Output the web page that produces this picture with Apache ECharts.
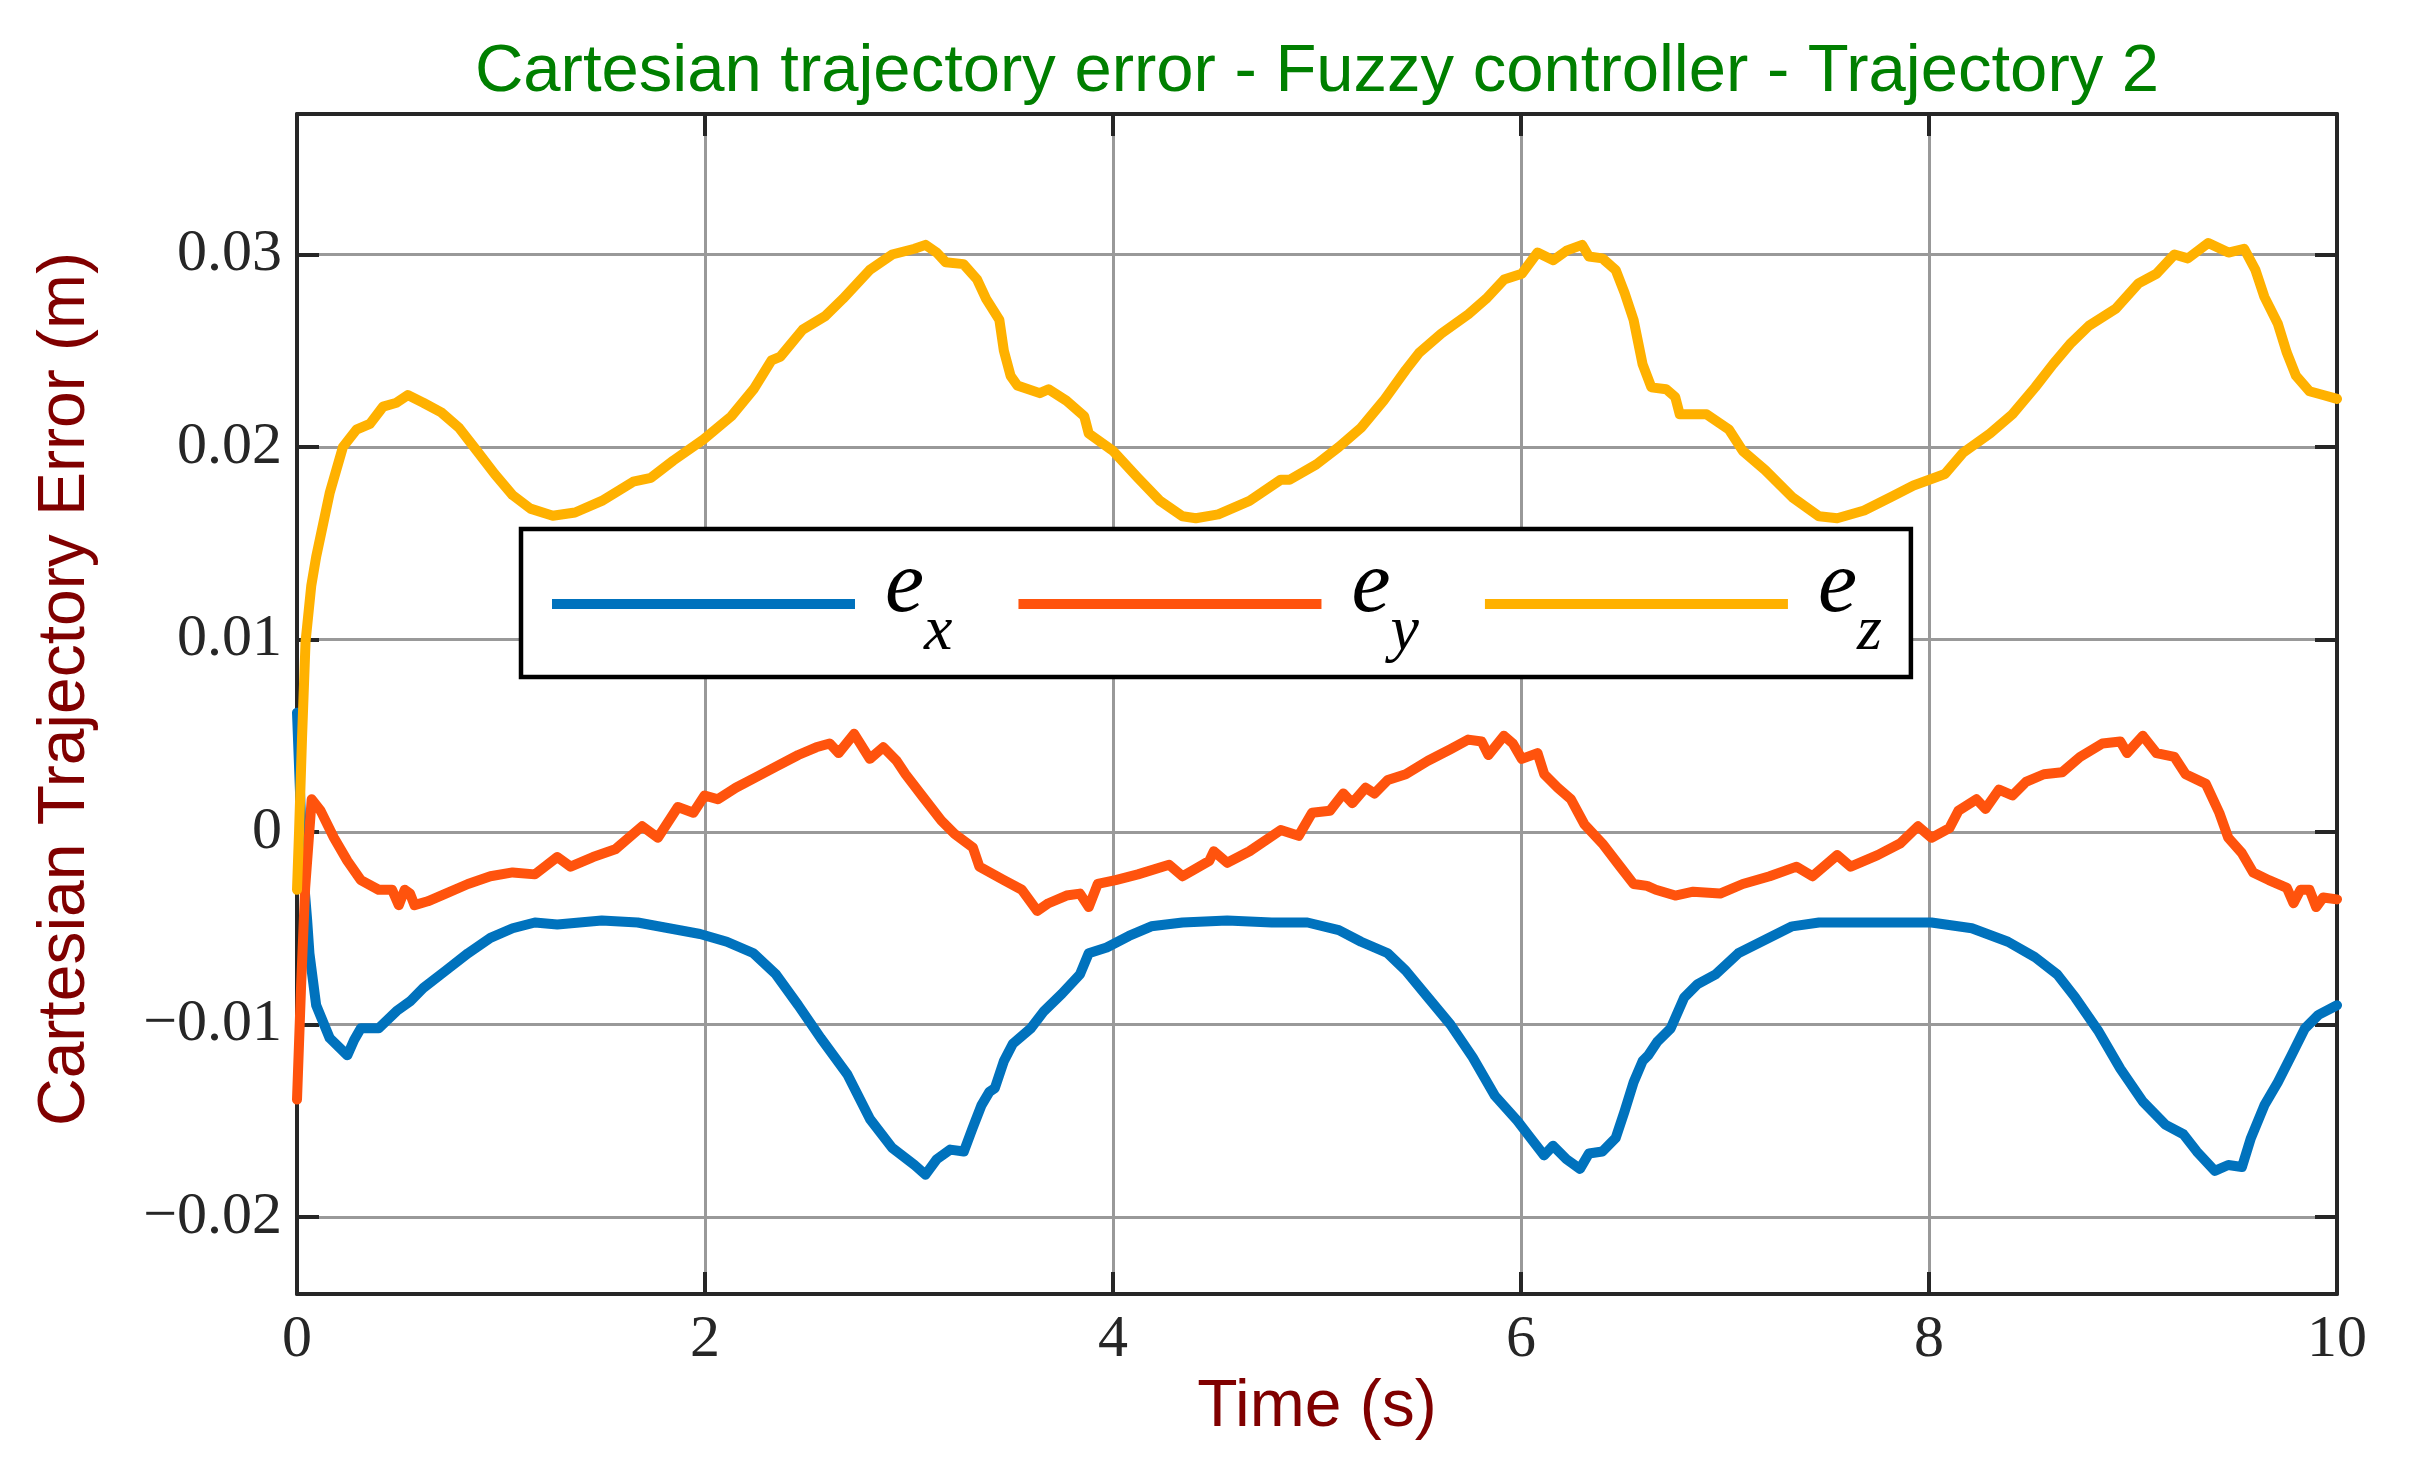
<!DOCTYPE html>
<html>
<head>
<meta charset="utf-8">
<script src="https://cdn.jsdelivr.net/npm/echarts@6/dist/echarts.min.js"></script>
<style>
html,body{margin:0;padding:0;background:#fff;}
#chart{width:2418px;height:1467px;}
</style>
</head>
<body>
<div id="chart"></div>
<script>
// ---------- data ----------
var titleText = 'Cartesian trajectory error - Fuzzy controller - Trajectory 2';
var xAxisName = 'Time (s)';
var yAxisName = 'Cartesian Trajectory Error (m)';
var seriesNames = ['e_x', 'e_y', 'e_z'];
var yTickValues = [-0.02, -0.01, 0, 0.01, 0.02, 0.03];

var timeX = [0,0.015,0.03,0.05,0.061,0.094,0.16,0.247,0.28,0.313,0.40,0.488,0.554,0.619,0.729,0.838,0.948,1.057,1.166,1.276,1.385,1.494,1.670,1.823,1.976,2.107,2.238,2.348,2.457,2.567,2.698,2.808,2.917,3.027,3.081,3.136,3.202,3.269,3.311,3.355,3.394,3.421,3.465,3.509,3.597,3.662,3.750,3.838,3.881,3.969,4.078,4.188,4.341,4.560,4.778,4.953,5.107,5.216,5.347,5.435,5.544,5.654,5.763,5.872,5.982,6.047,6.113,6.157,6.223,6.289,6.333,6.399,6.464,6.508,6.552,6.596,6.624,6.668,6.734,6.800,6.866,6.954,7.065,7.197,7.329,7.461,7.682,8.012,8.210,8.387,8.519,8.629,8.717,8.828,8.938,9.048,9.158,9.247,9.313,9.401,9.467,9.534,9.578,9.644,9.710,9.777,9.843,9.909,10.0];
var ex = [0.0062,0.002,-0.002,-0.0046,-0.0063,-0.009,-0.0107,-0.0116,-0.0108,-0.0102,-0.0102,-0.0093,-0.0088,-0.0081,-0.0072,-0.0063,-0.0055,-0.005,-0.0047,-0.0048,-0.0047,-0.0046,-0.0047,-0.005,-0.0053,-0.0057,-0.0063,-0.0074,-0.009,-0.0107,-0.0126,-0.0149,-0.0164,-0.0173,-0.0178,-0.017,-0.0165,-0.0166,-0.0154,-0.0142,-0.0135,-0.0133,-0.0119,-0.011,-0.0102,-0.0093,-0.0084,-0.0074,-0.0063,-0.006,-0.0054,-0.0049,-0.0047,-0.0046,-0.0047,-0.0047,-0.0051,-0.0057,-0.0063,-0.0072,-0.0086,-0.01,-0.0117,-0.0137,-0.015,-0.0159,-0.0168,-0.0163,-0.017,-0.0175,-0.0167,-0.0166,-0.0159,-0.0145,-0.013,-0.0119,-0.0116,-0.0109,-0.0102,-0.0086,-0.0079,-0.0074,-0.0063,-0.0056,-0.0049,-0.0047,-0.0047,-0.0047,-0.005,-0.0057,-0.0065,-0.0074,-0.0086,-0.0103,-0.0123,-0.014,-0.0152,-0.0157,-0.0166,-0.0176,-0.0173,-0.0174,-0.0159,-0.0142,-0.013,-0.0116,-0.0102,-0.0095,-0.009];

var timeY = [0,0.02,0.04,0.072,0.116,0.181,0.247,0.313,0.40,0.466,0.499,0.528,0.554,0.576,0.641,0.729,0.838,0.948,1.057,1.166,1.276,1.341,1.451,1.56,1.692,1.769,1.867,1.943,1.998,2.063,2.151,2.26,2.348,2.457,2.545,2.611,2.655,2.731,2.808,2.874,2.939,2.983,3.07,3.158,3.224,3.313,3.345,3.465,3.553,3.629,3.684,3.772,3.838,3.881,3.925,4.013,4.122,4.275,4.341,4.472,4.494,4.56,4.669,4.822,4.91,4.976,5.063,5.129,5.173,5.238,5.282,5.347,5.435,5.544,5.654,5.741,5.807,5.84,5.916,5.96,6.004,6.081,6.114,6.18,6.245,6.311,6.399,6.486,6.552,6.618,6.661,6.756,6.844,6.976,7.087,7.219,7.351,7.429,7.55,7.616,7.748,7.858,7.946,8.012,8.1,8.144,8.233,8.277,8.343,8.409,8.475,8.563,8.652,8.74,8.85,8.938,8.971,9.048,9.115,9.203,9.258,9.357,9.423,9.467,9.534,9.589,9.666,9.754,9.787,9.821,9.865,9.898,9.932,10];
var ey = [-0.0139,-0.008,-0.0029,0.0017,0.0011,-0.0003,-0.0015,-0.0025,-0.003,-0.003,-0.0038,-0.003,-0.0032,-0.0038,-0.0036,-0.0032,-0.0027,-0.0023,-0.0021,-0.0022,-0.0013,-0.0018,-0.0013,-0.0009,0.0003,-0.0003,0.0013,0.001,0.0019,0.0017,0.0023,0.0029,0.0034,0.004,0.0044,0.0046,0.0041,0.0051,0.0038,0.0044,0.0037,0.003,0.0018,0.0006,-0.0001,-0.0008,-0.0018,-0.0025,-0.003,-0.0041,-0.0037,-0.0033,-0.0032,-0.0039,-0.0027,-0.0025,-0.0022,-0.0017,-0.0023,-0.0015,-0.001,-0.0016,-0.001,0.0001,-0.0002,0.001,0.0011,0.002,0.0015,0.0023,0.002,0.0027,0.003,0.0037,0.0043,0.0048,0.0047,0.004,0.005,0.0046,0.0038,0.0041,0.003,0.0023,0.0017,0.0004,-0.0006,-0.0018,-0.0027,-0.0028,-0.003,-0.0033,-0.0031,-0.0032,-0.0027,-0.0023,-0.0018,-0.0023,-0.0012,-0.0018,-0.0012,-0.0006,0.0003,-0.0003,0.0002,0.0011,0.0017,0.0012,0.0022,0.0019,0.0026,0.003,0.0031,0.0039,0.0046,0.0047,0.0041,0.005,0.0041,0.0039,0.003,0.0025,0.001,-0.0003,-0.0011,-0.0021,-0.0025,-0.0029,-0.0037,-0.003,-0.003,-0.0039,-0.0034,-0.0035];

var timeZ = [0,0.01,0.025,0.042,0.07,0.094,0.16,0.225,0.291,0.357,0.422,0.488,0.543,0.619,0.707,0.794,0.882,0.969,1.057,1.144,1.254,1.363,1.494,1.648,1.735,1.845,1.993,2.129,2.238,2.326,2.37,2.479,2.589,2.676,2.808,2.917,3.027,3.081,3.136,3.18,3.267,3.334,3.378,3.443,3.465,3.498,3.531,3.641,3.684,3.772,3.859,3.881,4.0,4.122,4.231,4.341,4.406,4.516,4.669,4.822,4.866,4.997,5.107,5.216,5.326,5.435,5.501,5.61,5.742,5.829,5.917,6.004,6.081,6.158,6.223,6.3,6.333,6.399,6.464,6.508,6.552,6.596,6.639,6.712,6.756,6.778,6.844,6.91,7.02,7.087,7.197,7.329,7.461,7.55,7.682,7.814,7.924,8.078,8.167,8.299,8.409,8.52,8.608,8.696,8.784,8.917,9.027,9.115,9.203,9.269,9.369,9.468,9.545,9.6,9.644,9.71,9.754,9.799,9.865,9.932,10];
var ez = [-0.003,0.0,0.005,0.0099,0.0128,0.0143,0.0176,0.02,0.0209,0.0212,0.0221,0.0223,0.0227,0.0223,0.0218,0.021,0.0198,0.0186,0.0175,0.0168,0.01643,0.0166,0.0172,0.0182,0.0184,0.0193,0.0204,0.0216,0.023,0.0245,0.0247,0.0261,0.0268,0.0277,0.0292,0.03,0.0303,0.0305,0.0301,0.0296,0.0295,0.0287,0.0277,0.0266,0.025,0.0237,0.0232,0.0228,0.023,0.0224,0.0216,0.0207,0.0198,0.0184,0.0172,0.0164,0.0163,0.0165,0.0172,0.0183,0.0183,0.0191,0.02,0.021,0.0224,0.024,0.0249,0.0259,0.0269,0.0277,0.0287,0.029,0.0301,0.0297,0.0302,0.0305,0.0299,0.0298,0.0292,0.028,0.0266,0.0243,0.0231,0.023,0.0226,0.0217,0.0217,0.0217,0.0209,0.0198,0.0188,0.0174,0.0164,0.0163,0.0167,0.0174,0.018,0.0186,0.0197,0.0207,0.0217,0.0231,0.0243,0.0254,0.0263,0.0272,0.0285,0.029,0.03,0.0298,0.0306,0.0301,0.0303,0.0292,0.0278,0.0264,0.0249,0.0237,0.0229,0.0227,0.0225];

var seriesColors = ['#0072BD', '#FF530D', '#FFB100'];

// ---------- build ----------
function pairs(t, v) { return t.map(function (x, i) { return [x, v[i]]; }); }
var seriesData = [pairs(timeX, ex), pairs(timeY, ey), pairs(timeZ, ez)];

var Y_MIN = -0.024, Y_MAX = 0.0373;
var axisDark = '#262626';
var gridGray = '#999999';
var serif = '"Liberation Serif", "DejaVu Serif", serif';
var sans = '"Liberation Sans", Arial, sans-serif';

function yFmt(v) {
  if (v === 0) return '0';
  return (v < 0 ? '\u2212' : '') + String(Math.abs(v));
}

var chart = echarts.init(document.getElementById('chart'), null, {renderer: 'canvas'});
var option = {
  animation: false,
  backgroundColor: '#ffffff',
  grid: {left: 297, top: 114, width: 2040, height: 1180, containLabel: false, outerBoundsMode: 'none'},
  graphic: [{
    type: 'text',
    x: 1317, y: 73,
    style: {
      text: titleText,
      fill: '#007F00',
      font: '67px ' + sans,
      align: 'center',
      verticalAlign: 'middle'
    }
  }],
  legend: {
    left: 521, top: 529,
    orient: 'horizontal',
    padding: [15, 29, 13, 31],
    itemGap: 66,
    itemWidth: 303,
    itemHeight: 10,
    icon: 'rect',
    backgroundColor: '#ffffff',
    borderColor: '#000000',
    borderWidth: 4.5,
    borderRadius: 0,
    selectedMode: false,
    data: seriesNames,
    formatter: function (name) { return '{e|e}{s|' + name.slice(2) + '}'; },
    textStyle: {
      rich: {
        e: {fontSize: 88, fontFamily: serif, fontStyle: 'italic', color: '#000', lineHeight: 88, verticalAlign: 'top', padding: [0, 0, 0, 25]},
        s: {fontSize: 64, fontFamily: serif, fontStyle: 'italic', color: '#000', lineHeight: 120, verticalAlign: 'bottom'}
      }
    }
  },
  xAxis: [{
    type: 'value', position: 'bottom', min: 0, max: 10, interval: 2,
    name: xAxisName, nameLocation: 'middle', nameGap: 63,
    nameTextStyle: {fontSize: 66, fontFamily: sans, color: '#800000'},
    axisLine: {show: true, onZero: false, lineStyle: {color: axisDark, width: 4}},
    axisTick: {show: true, inside: true, length: 22, lineStyle: {color: axisDark, width: 4}},
    axisLabel: {show: true, margin: 16, fontSize: 60, fontFamily: serif, color: axisDark},
    splitLine: {show: true, lineStyle: {color: gridGray, width: 3}}
  }, {
    type: 'value', position: 'top', min: 0, max: 10, interval: 2,
    axisLine: {show: true, onZero: false, lineStyle: {color: axisDark, width: 4}},
    axisTick: {show: true, inside: true, length: 22, lineStyle: {color: axisDark, width: 4}},
    axisLabel: {show: false},
    splitLine: {show: false}
  }],
  yAxis: [{
    type: 'value', position: 'left', min: Y_MIN, max: Y_MAX,
    name: yAxisName, nameLocation: 'middle', nameGap: 198,
    nameTextStyle: {fontSize: 66, fontFamily: sans, color: '#800000', padding: [0, 0, 0, 30]},
    axisLine: {show: true, onZero: false, lineStyle: {color: axisDark, width: 4}},
    axisTick: {show: true, inside: true, length: 22, customValues: yTickValues, lineStyle: {color: axisDark, width: 4}},
    axisLabel: {show: true, margin: 15, fontSize: 60, fontFamily: serif, color: axisDark, customValues: yTickValues, formatter: yFmt},
    splitLine: {show: true, lineStyle: {color: gridGray, width: 3}}
  }, {
    type: 'value', position: 'right', min: Y_MIN, max: Y_MAX,
    axisLine: {show: true, onZero: false, lineStyle: {color: axisDark, width: 4}},
    axisTick: {show: true, inside: true, length: 22, customValues: yTickValues, lineStyle: {color: axisDark, width: 4}},
    axisLabel: {show: false, customValues: yTickValues},
    splitLine: {show: false}
  }],
  series: seriesNames.map(function (n, i) {
    return {
      name: n, type: 'line', xAxisIndex: 0, yAxisIndex: 0,
      data: seriesData[i],
      showSymbol: false, symbol: 'none',
      color: seriesColors[i],
      lineStyle: {color: seriesColors[i], width: 10, join: 'round', cap: 'round'},
      z: 2 + i
    };
  })
};
chart.setOption(option);
</script>
</body>
</html>
